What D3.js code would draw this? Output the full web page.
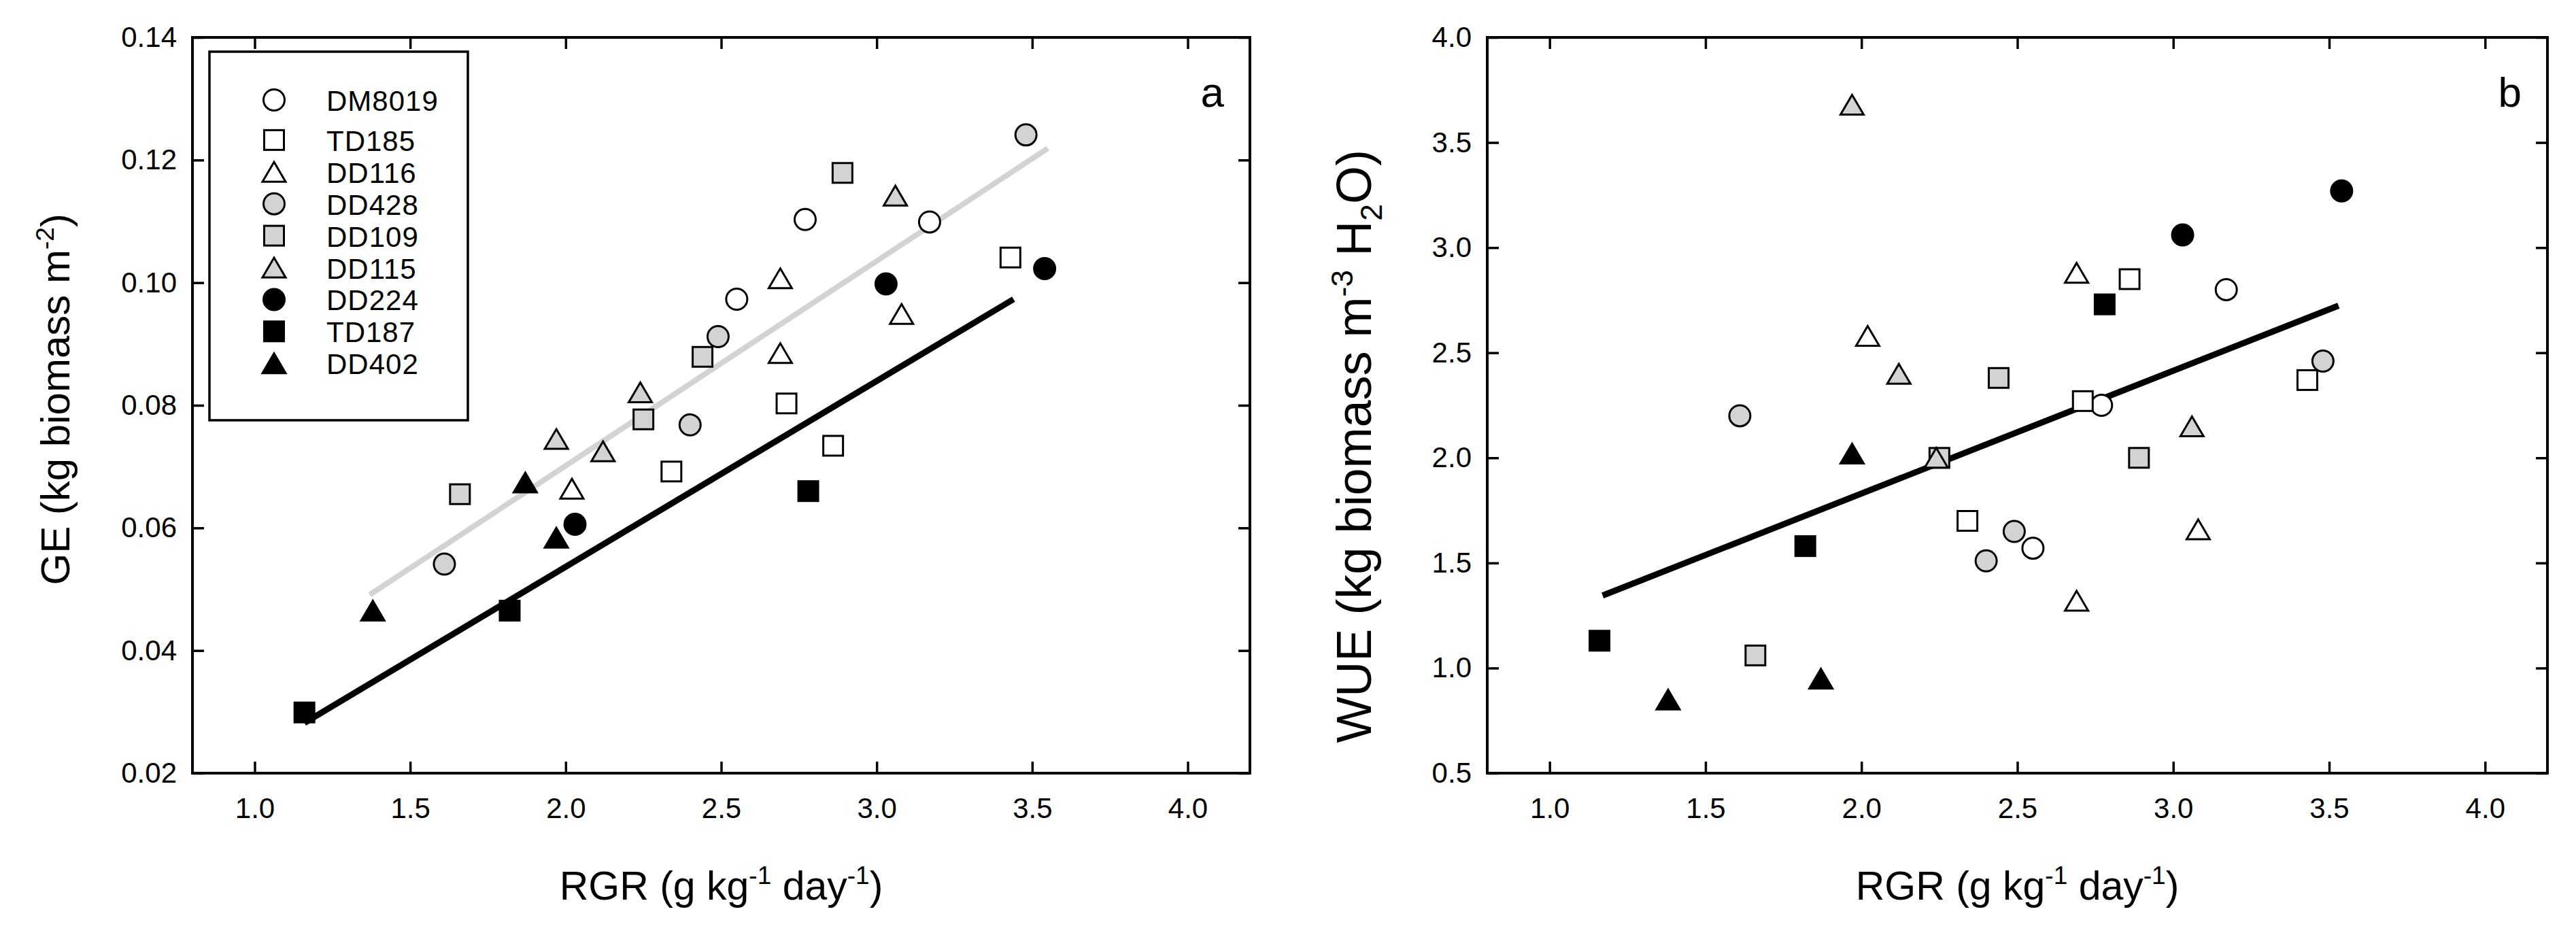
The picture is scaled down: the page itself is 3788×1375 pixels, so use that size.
<!DOCTYPE html>
<html>
<head>
<meta charset="utf-8">
<script src="https://cdn.jsdelivr.net/npm/d3@7"></script>
<style>
  body { margin: 0; background: #ffffff; }
  svg { display: block; }
  text { font-family: "Liberation Sans", Arial, Helvetica, sans-serif; fill: #000; }
</style>
</head>
<body>
<svg id="chart" width="3788" height="1375"></svg>
<script>
// ---------------- DATA ----------------
const genotypes = ["DM8019", "TD185", "DD116", "DD428", "DD109", "DD115", "DD224", "TD187", "DD402"];

// RGR (g kg-1 day-1) per genotype (shared x for both panels)
const rgr_DM8019 = [2.77, 2.55, 3.17];
const rgr_TD185  = [2.34, 2.71, 2.86, 3.43];
const rgr_DD116  = [2.02, 2.69, 2.69, 3.08];
const rgr_DD428  = [1.61, 2.40, 2.49, 3.48];
const rgr_DD109  = [1.66, 2.25, 2.44, 2.89];
const rgr_DD115  = [1.97, 2.12, 2.24, 3.06];
const rgr_DD224  = [2.03, 3.03, 3.54];
const rgr_TD187  = [1.16, 1.82, 2.78];
const rgr_DD402  = [1.38, 1.87, 1.97];

// GE (kg biomass m-2) – panel a
const ge_DM8019 = [0.1103, 0.0973, 0.1099];
const ge_TD185  = [0.0692, 0.0803, 0.0734, 0.1041];
const ge_DD116  = [0.0664, 0.1007, 0.0885, 0.0949];
const ge_DD428  = [0.0541, 0.0768, 0.0912, 0.1241];
const ge_DD109  = [0.0655, 0.0777, 0.0879, 0.1179];
const ge_DD115  = [0.0745, 0.0725, 0.0821, 0.1142];
const ge_DD224  = [0.0606, 0.0998, 0.1023];
const ge_TD187  = [0.0299, 0.0465, 0.0660];
const ge_DD402  = [0.0465, 0.0674, 0.0584];

// WUE (kg biomass m-3 H2O) – panel b
const wue_DM8019 = [2.25, 1.57, 2.80];
const wue_TD185  = [1.70, 2.27, 2.85, 2.37];
const wue_DD116  = [2.58, 2.88, 1.32, 1.66];
const wue_DD428  = [2.20, 1.51, 1.65, 2.46];
const wue_DD109  = [1.06, 2.00, 2.38, 2.00];
const wue_DD115  = [3.68, 2.40, 2.00, 2.15];
const wue_DD224  = [null, 3.06, 3.27];
const wue_TD187  = [1.13, 1.58, 2.73];
const wue_DD402  = [0.85, 0.95, 2.02];

// Regression lines (end points)
const fitGE_grey_x  = [1.37, 3.55];
const fitGE_grey_y  = [0.0491, 0.1219];
const fitGE_black_x = [1.16, 3.44];
const fitGE_black_y = [0.0282, 0.0973];
const fitWUE_x = [1.17, 3.53];
const fitWUE_y = [1.345, 2.724];

// Tick values
const xTicks = [1.0, 1.5, 2.0, 2.5, 3.0, 3.5, 4.0];
const yTicksGE = [0.02, 0.04, 0.06, 0.08, 0.10, 0.12, 0.14];
const yTicksWUE = [0.5, 1.0, 1.5, 2.0, 2.5, 3.0, 3.5, 4.0];

// ---------------- STYLE ----------------
const shapeOf = ["circle", "square", "triangle", "circle", "square", "triangle", "circle", "square", "triangle"];
const fillOf  = ["#ffffff", "#ffffff", "#ffffff", "#d3d3d3", "#d3d3d3", "#d3d3d3", "#000000", "#000000", "#000000"];

const rgrAll = [rgr_DM8019, rgr_TD185, rgr_DD116, rgr_DD428, rgr_DD109, rgr_DD115, rgr_DD224, rgr_TD187, rgr_DD402];
const geAll  = [ge_DM8019, ge_TD185, ge_DD116, ge_DD428, ge_DD109, ge_DD115, ge_DD224, ge_TD187, ge_DD402];
const wueAll = [wue_DM8019, wue_TD185, wue_DD116, wue_DD428, wue_DD109, wue_DD115, wue_DD224, wue_TD187, wue_DD402];

const svg = d3.select("#chart");
const TICK_FONT = 42;

function drawSymbol(g, shape, fill, cx, cy) {
  const sw = 3;
  if (shape === "circle") {
    g.append("circle").attr("cx", cx).attr("cy", cy).attr("r", 15.5)
      .attr("fill", fill).attr("stroke", "#000").attr("stroke-width", sw);
  } else if (shape === "square") {
    const s = 29;
    g.append("rect").attr("x", cx - s / 2).attr("y", cy - s / 2).attr("width", s).attr("height", s)
      .attr("fill", fill).attr("stroke", "#000").attr("stroke-width", sw);
  } else {
    const w = 34, h = 29;
    g.append("path")
      .attr("d", `M${cx},${cy - h / 2}L${cx + w / 2},${cy + h / 2}L${cx - w / 2},${cy + h / 2}Z`)
      .attr("fill", fill).attr("stroke", "#000").attr("stroke-width", sw).attr("stroke-linejoin", "miter");
  }
}

function drawPanel(opts) {
  const { x, y, yTicks, yFmt } = opts;
  const g = svg.append("g");
  const [x0, x1] = x.range();
  const [y0, y1] = y.range(); // y0 bottom, y1 top

  const styleAxis = (sel) => {
    sel.select(".domain").remove();
    sel.selectAll(".tick line").attr("stroke", "#000").attr("stroke-width", 3.5);
    sel.selectAll(".tick text").style("font-size", TICK_FONT + "px")
      .style("font-family", '"Liberation Sans", Arial, sans-serif').attr("fill", "#000");
  };

  // bottom
  g.append("g").attr("transform", `translate(0,${y0})`)
    .call(d3.axisBottom(x).tickValues(xTicks).tickSizeInner(-17).tickSizeOuter(0).tickPadding(36).tickFormat(d3.format(".1f")))
    .call(styleAxis);
  // top
  g.append("g").attr("transform", `translate(0,${y1})`)
    .call(d3.axisTop(x).tickValues(xTicks).tickSizeInner(-17).tickSizeOuter(0).tickFormat(""))
    .call(styleAxis);
  // left
  g.append("g").attr("transform", `translate(${x0},0)`)
    .call(d3.axisLeft(y).tickValues(yTicks).tickSizeInner(-17).tickSizeOuter(0).tickPadding(23).tickFormat(d3.format(yFmt)))
    .call(styleAxis);
  // right
  g.append("g").attr("transform", `translate(${x1},0)`)
    .call(d3.axisRight(y).tickValues(yTicks).tickSizeInner(-17).tickSizeOuter(0).tickFormat(""))
    .call(styleAxis);

  // frame
  g.append("rect").attr("x", x0).attr("y", y1).attr("width", x1 - x0).attr("height", y0 - y1)
    .attr("fill", "none").attr("stroke", "#000").attr("stroke-width", 4);

  // regression lines
  const line = d3.line().x(d => x(d[0])).y(d => y(d[1]));
  opts.fits.forEach(f => {
    g.append("path").attr("d", line(d3.zip(f.xs, f.ys)))
      .attr("fill", "none").attr("stroke", f.color).attr("stroke-width", f.width);
  });

  // points
  const pts = g.append("g");
  genotypes.forEach((name, i) => {
    rgrAll[i].forEach((xv, j) => {
      const yv = opts.values[i][j];
      if (yv == null) return;
      drawSymbol(pts, shapeOf[i], fillOf[i], x(xv), y(yv));
    });
  });

  // panel letter
  g.append("text").attr("x", x1 - 38).attr("y", y1 + 102).attr("text-anchor", "end")
    .style("font-size", "62px").text(opts.letter);

  // x title
  const xt = g.append("text").attr("x", (x0 + x1) / 2).attr("y", 1323)
    .attr("text-anchor", "middle").style("font-size", "59px");
  xt.append("tspan").text("RGR (g kg");
  xt.append("tspan").attr("dy", -23).style("font-size", "37px").text("-1");
  xt.append("tspan").attr("dy", 23).text(" day");
  xt.append("tspan").attr("dy", -23).style("font-size", "37px").text("-1");
  xt.append("tspan").attr("dy", 23).text(")");

  // y title
  const yt = g.append("text")
    .attr("transform", `translate(${opts.yTitleX},${opts.yTitleEnd}) rotate(-90)`)
    .attr("text-anchor", "end").style("font-size", opts.yTitleSize + "px");
  opts.yTitle(yt, opts.yTitleSize);
  return g;
}

// Panel a
const xA = d3.scaleLinear().domain([0.8, 4.2]).range([283, 1838]);
const yA = d3.scaleLinear().domain([0.02, 0.14]).range([1137, 55]);
drawPanel({
  x: xA, y: yA, yTicks: yTicksGE, yFmt: ".2f", values: geAll, letter: "a",
  fits: [
    { xs: fitGE_grey_x, ys: fitGE_grey_y, color: "#d3d3d3", width: 8 },
    { xs: fitGE_black_x, ys: fitGE_black_y, color: "#000000", width: 9 }
  ],
  yTitleX: 102, yTitleEnd: 314, yTitleSize: 60,
  yTitle: (t, s) => {
    t.append("tspan").text("GE (kg biomass m");
    t.append("tspan").attr("dy", -0.38 * s).style("font-size", (0.62 * s) + "px").text("-2");
    t.append("tspan").attr("dy", 0.38 * s).text(")");
  }
});

// Panel b
const xB = d3.scaleLinear().domain([0.8, 4.2]).range([2187, 3746]);
const yB = d3.scaleLinear().domain([0.5, 4.0]).range([1137, 55]);
drawPanel({
  x: xB, y: yB, yTicks: yTicksWUE, yFmt: ".1f", values: wueAll, letter: "b",
  fits: [
    { xs: fitWUE_x, ys: fitWUE_y, color: "#000000", width: 9 }
  ],
  yTitleX: 2016, yTitleEnd: 220, yTitleSize: 72,
  yTitle: (t, s) => {
    t.append("tspan").text("WUE (kg biomass m");
    t.append("tspan").attr("dy", -0.38 * s).style("font-size", (0.62 * s) + "px").text("-3");
    t.append("tspan").attr("dy", 0.38 * s).text(" H");
    t.append("tspan").attr("dy", 0.22 * s).style("font-size", (0.62 * s) + "px").text("2");
    t.append("tspan").attr("dy", -0.22 * s).text("O)");
  }
});

// Legend (panel a)
const leg = svg.append("g");
leg.append("rect").attr("x", 308).attr("y", 76).attr("width", 380).attr("height", 542)
  .attr("fill", "#ffffff").attr("stroke", "#000").attr("stroke-width", 3.5);
genotypes.forEach((name, i) => {
  const cy = 147 + i * 48.4 + (i > 0 ? 12 : 0) - (i > 0 ? 12 * i / 8 : 0);
  drawSymbol(leg, shapeOf[i], fillOf[i], 403, cy);
  leg.append("text").attr("x", 480).attr("y", cy + 16).style("font-size", "42px")
    .style("letter-spacing", "1px").text(name);
});
</script>
</body>
</html>
